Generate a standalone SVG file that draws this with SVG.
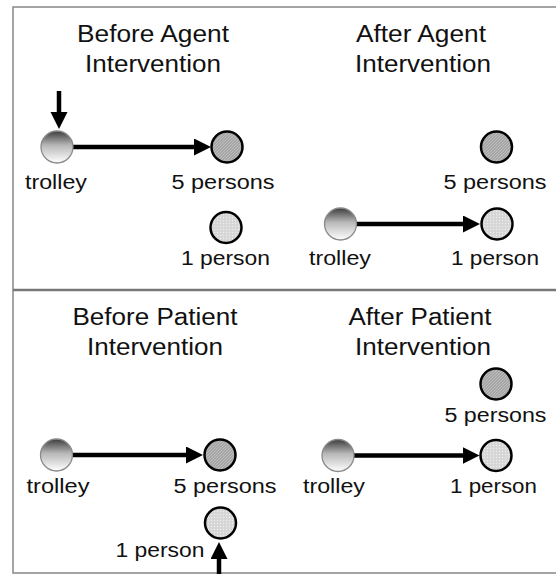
<svg xmlns="http://www.w3.org/2000/svg" width="556" height="575" viewBox="0 0 556 575">
<style>
.frame{stroke:#888;stroke-width:1.5;fill:none}
.divider{stroke:#777;stroke-width:2.5;fill:none}
.title{font-family:"Liberation Sans",Arial,sans-serif;font-size:23px;fill:#111;text-anchor:middle}
.lbl{font-family:"Liberation Sans",Arial,sans-serif;font-size:20px;fill:#111;text-anchor:middle}
.trolley{fill:url(#gTrolley);stroke:#8a8a8a;stroke-width:1.3}
.five{fill:url(#pHatch);stroke:#000;stroke-width:2.5}
.one{fill:url(#pDots);stroke:#000;stroke-width:2.5}
.conn{stroke:#000;stroke-width:4.5;fill:none;marker-end:url(#ah)}
</style>
<defs>
<linearGradient id="gTrolley" x1="0" y1="0" x2="0" y2="1">
<stop offset="0" stop-color="#3c3c3c"/>
<stop offset="0.45" stop-color="#b8b8b8"/>
<stop offset="1" stop-color="#ffffff"/>
</linearGradient>
<pattern id="pHatch" width="3" height="3" patternUnits="userSpaceOnUse">
<rect width="3" height="3" fill="#a6a6a6"/>
<path d="M0,3 L3,0" stroke="#c4c4c4" stroke-width="0.8"/>
</pattern>
<pattern id="pDots" width="3" height="3" patternUnits="userSpaceOnUse">
<rect width="3" height="3" fill="#d6d6d6"/>
<circle cx="1.5" cy="1.5" r="0.7" fill="#eeeeee"/>
</pattern>
<marker id="ah" markerUnits="userSpaceOnUse" markerWidth="18" markerHeight="18" refX="5" refY="8.5" orient="auto">
<path d="M0,0 L17,8.5 L0,17 z" fill="#000"/>
</marker>
</defs>
<rect width="556" height="575" fill="#fff"/>
<g id="frame">
<path class="frame" d="M557,7 H13 V573 H557"/>
<path class="divider" d="M13,290 H557"/>
</g>
<g id="titles">
<text class="title" x="153" y="42" textLength="152" lengthAdjust="spacingAndGlyphs">Before Agent</text>
<text class="title" x="153" y="72" textLength="136" lengthAdjust="spacingAndGlyphs">Intervention</text>
<text class="title" x="421" y="42" textLength="130" lengthAdjust="spacingAndGlyphs">After Agent</text>
<text class="title" x="423" y="72" textLength="136" lengthAdjust="spacingAndGlyphs">Intervention</text>
<text class="title" x="155" y="325" textLength="165" lengthAdjust="spacingAndGlyphs">Before Patient</text>
<text class="title" x="155" y="355" textLength="136" lengthAdjust="spacingAndGlyphs">Intervention</text>
<text class="title" x="420" y="325" textLength="143" lengthAdjust="spacingAndGlyphs">After Patient</text>
<text class="title" x="423" y="355" textLength="136" lengthAdjust="spacingAndGlyphs">Intervention</text>
</g>
<g id="connectors">
<path class="conn" d="M73,147 H199"/>
<path class="conn" d="M59,91 V117"/>
<path class="conn" d="M356,224 H468"/>
<path class="conn" d="M72,455 H191"/>
<path class="conn" d="M219,574 V554"/>
<path class="conn" d="M354,455.5 H467.5"/>
</g>
<g id="p1-trolley"><circle class="trolley" cx="57" cy="147" r="16"/><text class="lbl" x="56" y="189" textLength="62" lengthAdjust="spacingAndGlyphs">trolley</text></g>
<g id="p1-five"><circle class="five" cx="227" cy="147" r="15.5"/><text class="lbl" x="223" y="189" textLength="103" lengthAdjust="spacingAndGlyphs">5 persons</text></g>
<g id="p1-one"><circle class="one" cx="226" cy="227.5" r="15.5"/><text class="lbl" x="225.5" y="265" textLength="89" lengthAdjust="spacingAndGlyphs">1 person</text></g>
<g id="p2-five"><circle class="five" cx="496.5" cy="147" r="15.5"/><text class="lbl" x="495" y="189" textLength="103" lengthAdjust="spacingAndGlyphs">5 persons</text></g>
<g id="p2-trolley"><circle class="trolley" cx="340.5" cy="224" r="16"/><text class="lbl" x="340" y="265" textLength="62" lengthAdjust="spacingAndGlyphs">trolley</text></g>
<g id="p2-one"><circle class="one" cx="497" cy="224" r="15.5"/><text class="lbl" x="495" y="265" textLength="88" lengthAdjust="spacingAndGlyphs">1 person</text></g>
<g id="p3-trolley"><circle class="trolley" cx="56.5" cy="455" r="16"/><text class="lbl" x="58" y="493" textLength="63" lengthAdjust="spacingAndGlyphs">trolley</text></g>
<g id="p3-five"><circle class="five" cx="220" cy="455" r="15.5"/><text class="lbl" x="225" y="493" textLength="103" lengthAdjust="spacingAndGlyphs">5 persons</text></g>
<g id="p3-one"><circle class="one" cx="220.5" cy="523" r="15.5"/><text class="lbl" x="160" y="557" textLength="89" lengthAdjust="spacingAndGlyphs">1 person</text></g>
<g id="p4-five"><circle class="five" cx="496" cy="384" r="15.5"/><text class="lbl" x="495.5" y="421.5" textLength="102" lengthAdjust="spacingAndGlyphs">5 persons</text></g>
<g id="p4-trolley"><circle class="trolley" cx="338" cy="455.5" r="16"/><text class="lbl" x="334" y="493" textLength="62" lengthAdjust="spacingAndGlyphs">trolley</text></g>
<g id="p4-one"><circle class="one" cx="496" cy="455.5" r="15.5"/><text class="lbl" x="493.5" y="493" textLength="87" lengthAdjust="spacingAndGlyphs">1 person</text></g>
</svg>
